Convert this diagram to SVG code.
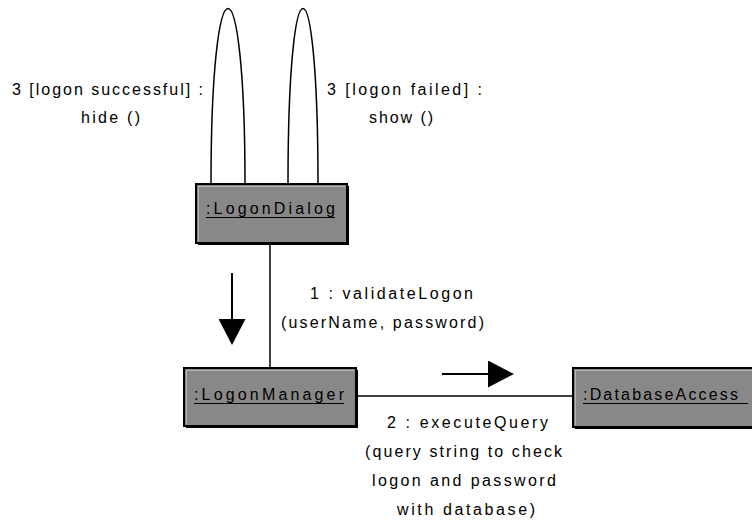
<svg xmlns="http://www.w3.org/2000/svg" width="752" height="523" viewBox="0 0 752 523">
  <defs>
    <style>
      .lbl { font-family: "Liberation Sans", Arial, sans-serif; font-size: 16px; fill: #000; }
      .obj { font-family: "Liberation Sans", Arial, sans-serif; font-size: 16px; fill: #000; }
      .ul { stroke: #000; stroke-width: 1.2; }
      .box { fill: #888888; stroke: #000; stroke-width: 2; }
      .shadow { fill: #000; }
      .hl { fill: none; stroke: #b4b4b4; stroke-width: 1; }
      .link { fill: none; stroke: #000; stroke-width: 1.5; }
      .msg { fill: none; stroke: #000; stroke-width: 2; }
    </style>
    <marker id="head" markerUnits="userSpaceOnUse" markerWidth="27" markerHeight="27" refX="0" refY="13.5" orient="auto" viewBox="0 0 27 27">
      <path d="M0,0 L26,13.5 L0,27 z" fill="#000"/>
    </marker>
  </defs>
  <rect width="752" height="523" fill="#fff"/>

  <g id="connectors">
    <path class="link" d="M211,184 C211,-50 245,-50 245,184"/>
    <path class="link" d="M288,184 C288,-50 318,-50 318,184"/>
    <line class="link" x1="270" y1="243" x2="270" y2="368"/>
    <line class="link" x1="356" y1="396" x2="573" y2="396"/>
    <line class="msg" x1="232" y1="273" x2="232" y2="319" marker-end="url(#head)"/>
    <line class="msg" x1="442" y1="374" x2="488" y2="374" marker-end="url(#head)"/>
  </g>

  <g id="labels">
    <text class="lbl" x="12" y="95" textLength="191" lengthAdjust="spacing">3 [logon successful] :</text>
    <text class="lbl" x="81" y="123" textLength="59" lengthAdjust="spacing">hide ()</text>
    <text class="lbl" x="327" y="95" textLength="155" lengthAdjust="spacing">3 [logon failed] :</text>
    <text class="lbl" x="369" y="123" textLength="64" lengthAdjust="spacing">show ()</text>
    <text class="lbl" x="310" y="299" textLength="163" lengthAdjust="spacing">1 : validateLogon</text>
    <text class="lbl" x="281" y="328" textLength="203" lengthAdjust="spacing">(userName, password)</text>
    <text class="lbl" x="387" y="428" textLength="161" lengthAdjust="spacing">2 : executeQuery</text>
    <text class="lbl" x="365" y="457" textLength="197" lengthAdjust="spacing">(query string to check</text>
    <text class="lbl" x="372" y="486" textLength="184" lengthAdjust="spacing">logon and password</text>
    <text class="lbl" x="397" y="515" textLength="138" lengthAdjust="spacing">with database)</text>
  </g>

  <g id="LogonDialog">
    <rect class="shadow" x="198" y="186" width="151" height="59"/>
    <rect class="box" x="196" y="184" width="151" height="59"/>
    <polyline class="hl" points="198.5,241 198.5,186.5 345,186.5"/>
    <text class="obj" x="206" y="214" textLength="129" lengthAdjust="spacing">:LogonDialog</text>
    <line class="ul" x1="206" y1="217.5" x2="335" y2="217.5"/>
  </g>

  <g id="LogonManager">
    <rect class="shadow" x="186" y="370" width="172" height="58"/>
    <rect class="box" x="184" y="368" width="172" height="58"/>
    <polyline class="hl" points="186.5,424 186.5,370.5 354,370.5"/>
    <text class="obj" x="194" y="400" textLength="150" lengthAdjust="spacing">:LogonManager</text>
    <line class="ul" x1="194" y1="403.5" x2="344" y2="403.5"/>
  </g>

  <g id="DatabaseAccess">
    <rect class="shadow" x="575" y="370" width="190" height="59"/>
    <rect class="box" x="573" y="368" width="190" height="59"/>
    <polyline class="hl" points="575.5,425 575.5,370.5 760,370.5"/>
    <text class="obj" x="583" y="400" textLength="155" lengthAdjust="spacing">:DatabaseAccess</text>
    <line class="ul" x1="583" y1="403.5" x2="748" y2="403.5"/>
  </g>
</svg>
